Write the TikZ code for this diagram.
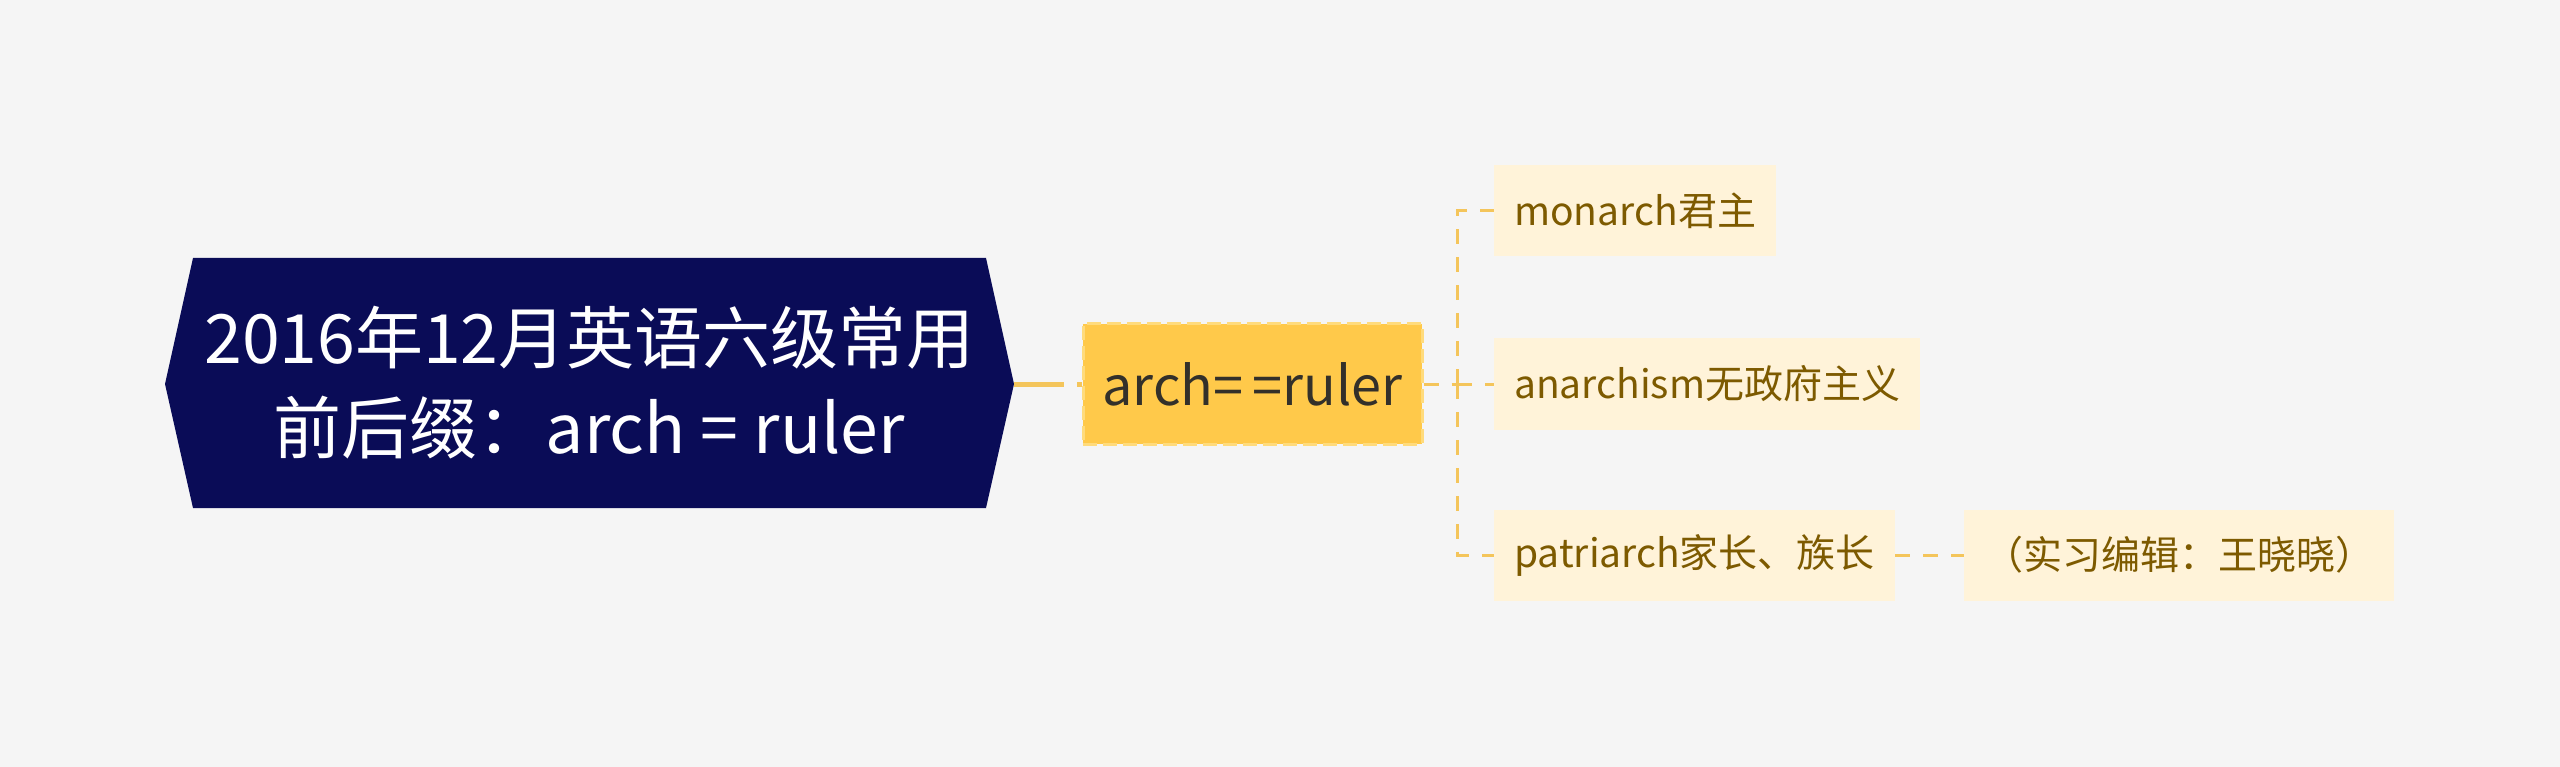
\documentclass[tikz,border=0pt]{standalone}
\usepackage{fontspec}
\setmainfont{Noto Sans CJK SC}
\definecolor{bg}{HTML}{F5F5F5}
\definecolor{navy}{HTML}{0A0C57}
\definecolor{gold}{HTML}{FFC94A}
\definecolor{goldedge}{HTML}{FFDB7C}
\definecolor{goldline}{HTML}{F4C55B}
\definecolor{cream}{HTML}{FFF3D9}
\definecolor{brown}{HTML}{7D5A00}
\definecolor{darktext}{HTML}{33302A}
\begin{document}
\begin{tikzpicture}[x=1pt,y=-1pt,
  rootshape/.style={fill=navy},
  roottext/.style={text=white,align=center,font=\fontsize{68}{90}\selectfont,inner sep=0pt},
  midbox/.style={fill=gold,draw=goldedge,line width=3pt,dash pattern=on 14pt off 6pt,
    minimum width=339pt,minimum height=120pt,text=darktext,font=\fontsize{54}{60}\selectfont,inner sep=0pt},
  leafbox/.style={fill=cream,text=brown,font=\fontsize{39}{48}\selectfont,anchor=west,
    minimum height=91pt,inner xsep=20pt,inner ysep=0pt},
  trunk/.style={draw=goldline,line width=5pt,dash pattern=on 50pt off 13pt},
  twig/.style={draw=goldline,line width=3pt,dash pattern=on 15pt off 13pt}]
\fill[bg] (0,0) rectangle (2560,767);
\useasboundingbox (0,0) rectangle (2560,767);
% root
\fill[rootshape] (165,384) -- (193,258) -- (986,258) -- (1014,384) -- (986,508) -- (193,508) -- cycle;
\coordinate (rootE) at (1014,384);
\node[roottext] (root) at (589.5,383) {2016年12月英语六级常用\\前后缀：arch = ruler};
% middle
\node[midbox] (mid) at (1252.5,384) {arch=\,=ruler};
% leaves
\node[leafbox] (l1) at (1494,211) {monarch君主};
\node[leafbox] (l2) at (1494,384) {anarchism无政府主义};
\node[leafbox] (l3) at (1494,555) {patriarch家长、族长};
\node[leafbox] (l4) at (1964,555) {（实习编辑：王晓晓）};
\coordinate (bx) at (1457,384);
% connectors
\draw[trunk] (rootE) -- (mid.west);
\draw[twig] (mid.east) -- (bx);
\draw[twig] (bx) -- (l2.west);
\draw[twig] (bx) |- (l1.west);
\draw[twig] (bx) |- (l3.west);
\draw[twig] (l3.east) -- (l4.west);
\end{tikzpicture}
\end{document}
